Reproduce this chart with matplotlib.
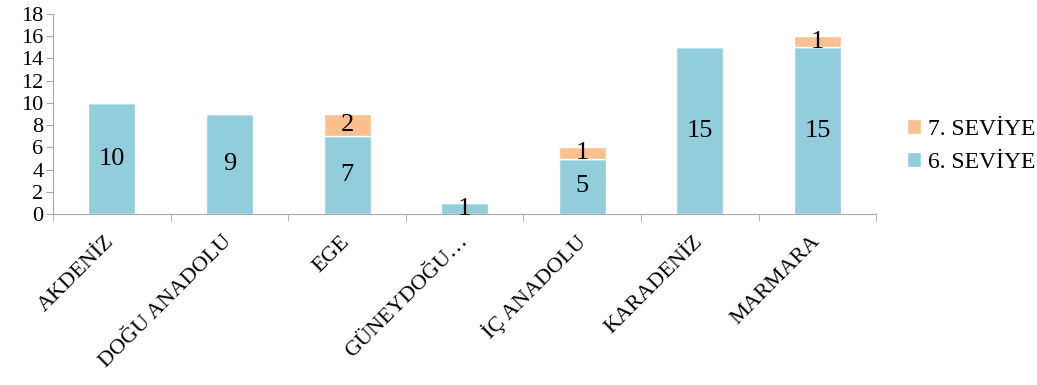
import numpy as np
import matplotlib.pyplot as plt

plt.rcParams['font.family'] = ['Liberation Serif', 'DejaVu Serif']

bolgeler = ["AKDENİZ", "DOĞU ANADOLU", "EGE", "GÜNEYDOĞU…", "İÇ ANADOLU", "KARADENİZ", "MARMARA"]
seviye6 = [10, 9, 7, 1, 5, 15, 15]
seviye7 = [0, 0, 2, 0, 1, 0, 1]

mavi = "#92CDDC"
turuncu = "#FAC090"
gri = "#A6A6A6"

fig = plt.figure(figsize=(10.37, 3.85), dpi=100)
ax = fig.add_axes([0.0511, 0.444, 0.794, 0.5195])

x = np.arange(len(bolgeler))
b6 = ax.bar(x, seviye6, width=0.4, color=mavi, edgecolor="white", linewidth=1, label="6. SEVİYE")
b7 = ax.bar(x, seviye7, width=0.4, bottom=seviye6, color=turuncu, edgecolor="white", linewidth=1, label="7. SEVİYE")

for i in range(len(x)):
    if seviye6[i] > 0:
        ax.text(x[i], seviye6[i] / 2, str(seviye6[i]), ha="center", va="center", fontsize=19)
    if seviye7[i] > 0:
        ax.text(x[i], seviye6[i] + seviye7[i] / 2, str(seviye7[i]), ha="center", va="center", fontsize=19)

ax.set_xlim(-0.5, len(bolgeler) - 0.5)
ax.set_ylim(0, 18)
ax.set_yticks(range(0, 19, 2))
ax.set_xticks(x)
ax.set_xticklabels(bolgeler, rotation=45, ha="right", va="center", rotation_mode="anchor", fontsize=16)
ax.set_xticks(np.arange(-0.5, len(bolgeler), 1), minor=True)
ax.tick_params(axis="x", which="major", length=0, pad=18)
ax.tick_params(axis="x", which="minor", length=5, color=gri, direction="out")
ax.tick_params(axis="y", length=5, color=gri, labelsize=16, pad=2)

for s in ["top", "right"]:
    ax.spines[s].set_visible(False)
ax.spines["left"].set_color(gri)
ax.spines["bottom"].set_color(gri)

handles = [b7, b6]
ax.legend(handles, ["7. SEVİYE", "6. SEVİYE"], loc="center left", bbox_to_anchor=(1.037, 0.34),
          frameon=False, fontsize=17, handlelength=0.6, handleheight=0.6, handletextpad=0.3,
          labelspacing=0.5, borderpad=0, borderaxespad=0)

fig.savefig("out.png", dpi=100)
